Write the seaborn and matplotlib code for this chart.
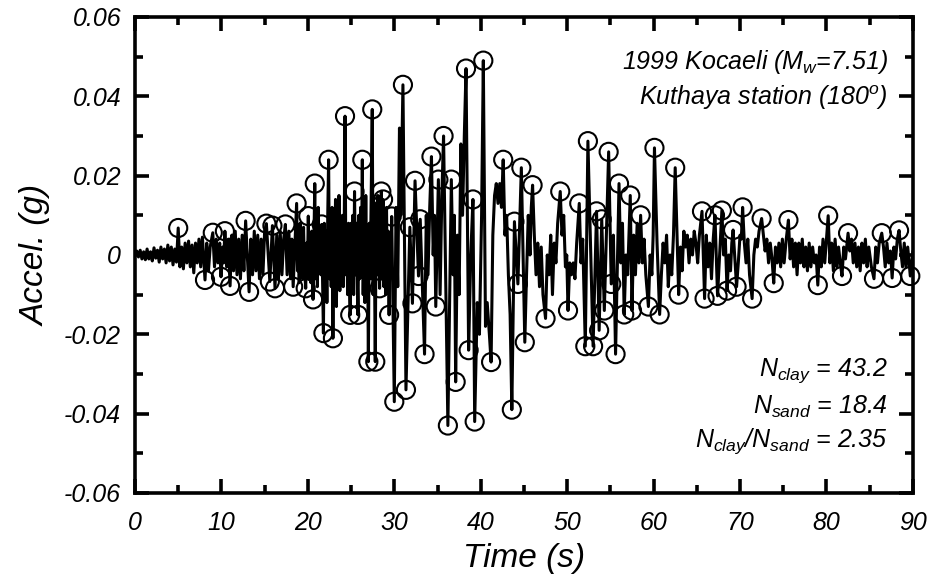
import numpy as np
import pandas as pd
import seaborn as sns
import matplotlib
matplotlib.use("Agg")
from matplotlib import pyplot as plt
from matplotlib.ticker import MultipleLocator

# circled peaks of the record: time (s), acceleration (g)
peaks = [
    (5.0, 0.0068), (8.1, -0.0063), (9.0, 0.0056), (9.95, -0.0055), (10.4, 0.006),
    (11.0, -0.0078), (12.8, 0.0086), (13.2, -0.0093), (15.2, 0.0079), (15.6, -0.0067),
    (15.9, 0.0074), (16.2, -0.0084), (17.4, 0.0077), (18.3, -0.008), (18.7, 0.013),
    (19.75, -0.0084), (20.05, 0.0098), (20.6, -0.0112), (20.8, 0.018), (21.6, 0.0077),
    (21.8, -0.0197), (22.4, 0.024), (22.9, -0.021), (24.3, 0.035), (24.9, -0.0151),
    (25.4, 0.016), (25.8, -0.0151), (26.3, 0.024), (27.0, -0.0269), (27.45, 0.0367),
    (27.8, -0.0269), (28.3, -0.0084), (28.5, 0.016), (28.7, 0.014), (29.4, -0.0151),
    (29.7, 0.0097), (30.0, -0.037), (31.0, 0.0429), (31.35, -0.034), (31.8, 0.007),
    (32.1, -0.0122), (32.4, 0.0187), (32.8, -0.0053), (33.0, 0.009), (33.5, -0.025),
    (34.3, 0.0248), (34.8, -0.013), (35.1, 0.019), (35.7, 0.030), (36.2, -0.043),
    (36.6, 0.019), (37.1, -0.032), (38.3, 0.047), (38.6, -0.024), (39.1, 0.014),
    (39.3, -0.042), (40.3, 0.049), (41.2, -0.027), (42.6, 0.024), (43.6, -0.039),
    (43.9, 0.0084), (44.3, -0.0073), (44.7, 0.022), (45.1, -0.022), (46.0, 0.0176),
    (47.5, -0.016), (49.2, 0.016), (50.1, -0.014), (51.4, 0.013), (52.1, -0.023),
    (52.4, 0.0287), (53.0, -0.023), (53.4, 0.011), (53.7, -0.019), (54.0, 0.009),
    (54.3, -0.014), (54.8, 0.026), (55.1, -0.0073), (55.6, -0.025), (56.0, 0.018),
    (56.6, -0.015), (57.3, 0.015), (57.5, -0.014), (58.5, 0.010), (59.4, -0.013),
    (60.1, 0.027), (60.7, -0.015), (62.5, 0.022), (62.9, -0.010), (65.6, 0.011),
    (65.9, -0.011), (67.1, 0.010), (67.4, -0.0103), (67.9, 0.0112), (68.5, -0.009),
    (69.2, 0.0063), (69.6, -0.008), (70.3, 0.012), (71.4, -0.011), (72.5, 0.0092),
    (73.9, -0.0071), (75.6, 0.0088), (79.0, -0.0076), (80.2, 0.0099), (81.8, -0.0053),
    (82.5, 0.0055), (85.5, -0.006), (86.4, 0.0055), (87.6, -0.0058), (88.4, 0.0062),
    (89.7, -0.0053),
]

# the rest of the trace between the circled peaks
trace = [
    (0.0, 0.0), (0.2, 0.001), (0.4, -0.0005), (0.6, 0.0012), (0.8, -0.001), (1.0, 0.0008),
    (1.2, -0.0012), (1.4, 0.0015), (1.6, -0.001), (1.8, 0.0008), (2.0, -0.0015), (2.2, 0.0018),
    (2.4, -0.0008), (2.6, 0.0012), (2.8, -0.0018), (3.0, 0.002), (3.2, -0.001), (3.4, 0.0015),
    (3.6, -0.002), (3.8, 0.0025), (4.0, -0.0015), (4.2, 0.002), (4.4, -0.0025), (4.6, 0.0015),
    (4.8, -0.0018),
    (5.2, -0.003), (5.4, 0.002), (5.6, -0.0035), (5.8, 0.003), (6.0, -0.002), (6.2, 0.0035),
    (6.4, -0.003), (6.6, 0.0025), (6.8, -0.0045), (7.0, 0.003), (7.2, -0.002), (7.4, 0.004),
    (7.6, -0.003), (7.8, 0.0045),
    (8.3, 0.003), (8.5, -0.004), (8.7, 0.002),
    (9.2, -0.003), (9.4, 0.004), (9.6, -0.002), (9.8, 0.003),
    (10.15, 0.002), (10.25, -0.002), (10.6, -0.003), (10.8, 0.004),
    (11.2, 0.005), (11.4, -0.004), (11.6, 0.006), (11.8, -0.005), (12.0, 0.004),
    (12.2, -0.006), (12.4, 0.005), (12.6, -0.004),
    (13.4, 0.004), (13.6, -0.005), (13.8, 0.006), (14.0, -0.004), (14.2, 0.005),
    (14.4, -0.006), (14.6, 0.004), (14.8, -0.005), (15.0, 0.006),
    (16.4, 0.005), (16.6, -0.006), (16.8, 0.006), (17.0, -0.005), (17.2, 0.004),
    (17.6, -0.005), (17.8, 0.006), (18.0, -0.006), (18.15, 0.004),
    (18.8, -0.004), (18.9, 0.006), (19.0, -0.007), (19.1, 0.008), (19.2, -0.004),
    (19.3, 0.005), (19.4, -0.006), (19.5, 0.007), (19.6, -0.003),
    (19.85, 0.003), (19.95, -0.004),
    (20.15, -0.006), (20.25, 0.005), (20.35, -0.007), (20.45, 0.006),
    (20.9, -0.006), (21.0, 0.01), (21.1, -0.008), (21.2, 0.012), (21.3, -0.004),
    (21.4, 0.006), (21.5, -0.005),
    (21.9, 0.008), (22.0, -0.01), (22.1, 0.006), (22.2, -0.012), (22.3, 0.01),
    (22.5, -0.006), (22.6, 0.01), (22.7, -0.008), (22.8, 0.012),
    (23.0, 0.01), (23.1, -0.005), (23.2, 0.014), (23.3, -0.013), (23.4, 0.006),
    (23.5, -0.008), (23.6, 0.015), (23.7, -0.009), (23.8, 0.008), (23.9, -0.006),
    (24.0, 0.01), (24.1, -0.008), (24.2, 0.005),
    (24.4, -0.005), (24.5, 0.006), (24.6, -0.01), (24.7, 0.008), (24.8, -0.006),
    (25.0, 0.008), (25.1, -0.006), (25.2, 0.01), (25.3, -0.01),
    (25.5, -0.005), (25.6, 0.008), (25.7, -0.004),
    (25.9, 0.01), (26.0, -0.006), (26.1, 0.012), (26.2, -0.005),
    (26.4, -0.01), (26.5, 0.008), (26.6, -0.012), (26.7, 0.015), (26.8, -0.008), (26.9, 0.006),
    (27.1, 0.008), (27.2, -0.006), (27.3, 0.01),
    (27.55, -0.01), (27.65, 0.012),
    (27.9, 0.013), (28.0, -0.005), (28.1, 0.015), (28.2, 0.0),
    (28.4, 0.005), (28.6, -0.006),
    (28.8, -0.008), (28.9, 0.01), (29.0, -0.01), (29.1, 0.012), (29.2, -0.008), (29.3, 0.006),
    (29.5, 0.004), (29.6, -0.005),
    (30.2, 0.012), (30.4, -0.008), (30.6, 0.032), (30.75, 0.01),
    (33.7, 0.01), (33.9, -0.005), (34.1, 0.012), (34.5, 0.0), (34.65, 0.01),
    (35.3, -0.01), (35.5, 0.015), (36.8, -0.005), (36.95, 0.01),
    (37.3, 0.005), (37.5, -0.01), (37.7, 0.028), (37.9, 0.01), (38.1, 0.03),
    (38.85, 0.0), (39.6, -0.012), (39.85, -0.02), (40.1, 0.01),
    (40.55, -0.018), (40.75, -0.012), (41.0, -0.02),
    (41.4, 0.005), (41.6, 0.015), (41.8, 0.018), (42.0, 0.013), (42.2, 0.018), (42.4, 0.012),
    (42.8, 0.005), (43.0, 0.01), (43.2, -0.005), (43.4, -0.015),
    (45.3, -0.005), (45.5, 0.01), (45.7, 0.0), (45.85, 0.012),
    (46.2, 0.005), (46.4, -0.005), (46.6, 0.003), (46.8, -0.008), (47.0, 0.002), (47.2, -0.01),
    (47.7, 0.0), (47.9, -0.005), (48.1, 0.005), (48.3, -0.01), (48.5, 0.003), (48.7, -0.002),
    (48.9, 0.008), (49.4, 0.005), (49.6, 0.01), (49.8, -0.003), (49.95, 0.0),
    (50.3, -0.002), (50.5, -0.005), (50.7, -0.002), (50.9, -0.006), (51.1, 0.003),
    (51.6, -0.002), (51.8, 0.004), (55.35, 0.005), (56.2, -0.002), (56.4, 0.008),
    (56.8, 0.0), (57.0, -0.005), (57.7, 0.005), (57.9, -0.005), (58.1, 0.008), (58.3, -0.002),
    (58.7, -0.002), (58.9, 0.004), (59.1, -0.005), (59.6, 0.0), (59.8, -0.005), (59.95, 0.005),
    (60.4, 0.003), (60.9, -0.005), (61.1, 0.003), (61.3, -0.002), (61.5, 0.005), (61.7, -0.008),
    (61.9, 0.0), (62.1, -0.005), (62.3, 0.005),
    (63.1, 0.002), (63.3, -0.004), (63.5, 0.006), (63.7, 0.002), (63.9, 0.005), (64.1, -0.002),
    (64.3, 0.004), (64.5, 0.0), (64.7, 0.006), (64.9, 0.003), (65.1, -0.002), (65.3, 0.005),
    (66.1, 0.005), (66.3, -0.003), (66.5, 0.003), (66.7, -0.006), (66.9, 0.004),
    (68.1, 0.0), (68.3, 0.004), (68.7, 0.0), (68.9, -0.004), (69.05, 0.003),
    (69.8, -0.002), (70.0, 0.005), (70.15, 0.004),
    (70.5, 0.003), (70.7, -0.002), (70.9, 0.004), (71.1, -0.005),
    (71.6, 0.0), (71.8, 0.004), (72.0, 0.002), (72.2, 0.006),
    (72.7, 0.005), (72.9, 0.001), (73.1, 0.004), (73.3, -0.002), (73.5, 0.003), (73.7, -0.001),
    (74.1, 0.002), (74.3, -0.002), (74.5, 0.003), (74.7, -0.003), (74.9, 0.004), (75.1, -0.002),
    (75.35, 0.004),
    (75.8, -0.001), (76.0, 0.004), (76.2, -0.003), (76.4, 0.003), (76.6, -0.005), (76.8, 0.003),
    (77.0, -0.002), (77.2, 0.004), (77.4, -0.003), (77.6, 0.002), (77.8, -0.004), (78.0, 0.003),
    (78.2, -0.003), (78.4, 0.002), (78.6, -0.002), (78.8, 0.0),
    (79.2, 0.002), (79.4, -0.003), (79.6, 0.004), (79.8, -0.002), (80.0, 0.004),
    (80.4, -0.002), (80.6, 0.003), (80.8, -0.004), (81.0, 0.004), (81.2, -0.003), (81.4, 0.002),
    (81.6, -0.002), (82.0, 0.002), (82.2, -0.001),
    (82.7, 0.001), (82.9, 0.004), (83.1, -0.002), (83.3, 0.003), (83.5, -0.003), (83.7, 0.002),
    (83.9, -0.004), (84.1, 0.003), (84.3, -0.002), (84.5, 0.004), (84.7, -0.003), (84.9, 0.002),
    (85.2, -0.003), (85.7, 0.002), (85.9, -0.002), (86.1, 0.003),
    (86.6, 0.002), (86.8, -0.003), (87.0, 0.003), (87.2, -0.002), (87.4, 0.001),
    (87.8, 0.002), (88.0, -0.001), (88.2, 0.004),
    (88.6, 0.001), (88.8, -0.003), (89.0, 0.003), (89.2, -0.003), (89.4, 0.002), (90.0, 0.001),
]

x_ticks = [0, 10, 20, 30, 40, 50, 60, 70, 80, 90]
y_ticks = [-0.06, -0.04, -0.02, 0, 0.02, 0.04, 0.06]
y_tick_labels = ["-0.06", "-0.04", "-0.02", "0", "0.02", "0.04", "0.06"]

peak_df = pd.DataFrame(peaks, columns=["time", "accel"])
record = pd.DataFrame(trace + peaks, columns=["time", "accel"]).sort_values("time")

sns.set_style("ticks")
plt.rcParams["font.family"] = ["Liberation Sans", "DejaVu Sans"]
plt.rcParams["font.style"] = "italic"
plt.rcParams["mathtext.fontset"] = "custom"
plt.rcParams["mathtext.it"] = "Liberation Sans:italic"
plt.rcParams["mathtext.rm"] = "Liberation Sans:italic"
plt.rcParams["axes.unicode_minus"] = False
for key in ["text.color", "axes.labelcolor", "xtick.color", "ytick.color", "axes.edgecolor"]:
    plt.rcParams[key] = "black"

fig = plt.figure(figsize=(9.46, 5.82), dpi=100)
ax = fig.add_axes([0.1427, 0.153, 0.8223, 0.8178])

sns.lineplot(data=record, x="time", y="accel", sort=False, estimator=None,
             color="black", linewidth=2.2, ax=ax)
sns.scatterplot(data=peak_df, x="time", y="accel", s=170, facecolors="none",
                edgecolor="black", linewidth=1.5, zorder=3, clip_on=False, ax=ax)

ax.set_xlim(0, 90)
ax.set_ylim(-0.06, 0.06)
ax.set_xticks(x_ticks)
ax.set_xticklabels([str(v) for v in x_ticks])
ax.set_yticks(y_ticks)
ax.set_yticklabels(y_tick_labels)
ax.xaxis.set_minor_locator(MultipleLocator(5))
ax.yaxis.set_minor_locator(MultipleLocator(0.01))
ax.tick_params(which="both", direction="in", top=True, right=True, width=2.6,
               labelsize=18, color="black", labelcolor="black")
ax.tick_params(axis="y", pad=10)
ax.tick_params(axis="x", pad=13)
ax.tick_params(which="major", length=10)
ax.tick_params(which="minor", length=6)
for s in ax.spines.values():
    s.set_linewidth(2.6)
    s.set_color("black")

ax.set_xlabel("Time (s)", fontsize=24, labelpad=6)
ax.set_ylabel("Accel. (g)", fontsize=24, labelpad=9)

ax.text(0.968, 0.905, "1999 Kocaeli ($M_w$=7.51)", transform=ax.transAxes,
        ha="right", va="center", fontsize=18)
ax.text(0.968, 0.83, "Kuthaya station (180$^o$)", transform=ax.transAxes,
        ha="right", va="center", fontsize=18)
ax.text(0.968, 0.258, "$N_{clay}$ = 43.2", transform=ax.transAxes,
        ha="right", va="center", fontsize=18)
ax.text(0.968, 0.18, "$N_{sand}$ = 18.4", transform=ax.transAxes,
        ha="right", va="center", fontsize=18)
ax.text(0.968, 0.108, "$N_{clay}$/$N_{sand}$ = 2.35", transform=ax.transAxes,
        ha="right", va="center", fontsize=18)

fig.savefig("out.png", dpi=100)
